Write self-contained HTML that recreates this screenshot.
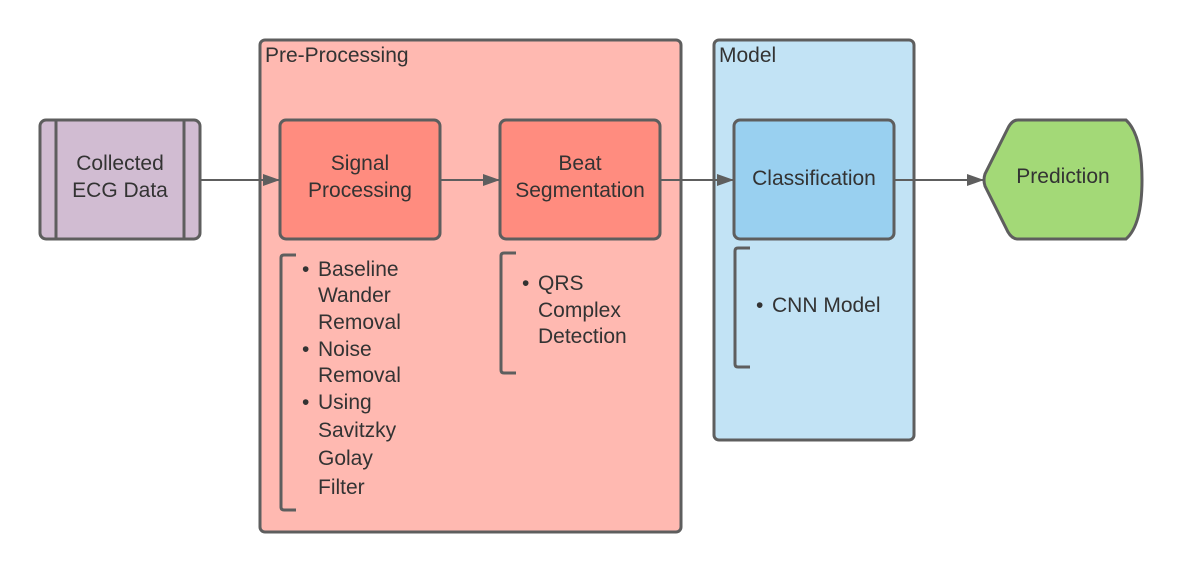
<!DOCTYPE html>
<html><head><meta charset="utf-8"><style>
html,body{margin:0;padding:0;background:#fff;}
svg{display:block;}
text{font-family:"Liberation Sans",Arial,sans-serif;fill:#333;}
</style></head><body>
<svg width="1183" height="573" viewBox="0 0 1183 573" xmlns="http://www.w3.org/2000/svg">
<defs><marker id="a" markerWidth="17" markerHeight="13" refX="16" refY="6.5" orient="auto" markerUnits="userSpaceOnUse"><path d="M0,0.5 L17,6.5 L0,12.5 z" fill="#5e5e5e" stroke="none"/></marker></defs>
<g stroke="#5e5e5e" stroke-width="3">
<rect x="260" y="40" width="421" height="492" rx="5" fill="#ffb9b1"/>
<rect x="714" y="40" width="200" height="400" rx="5" fill="#c2e3f5"/>
<rect x="40" y="120" width="160" height="119" rx="6" fill="#d1bcd2"/>
<line x1="56" y1="120" x2="56" y2="239"/><line x1="184" y1="120" x2="184" y2="239"/>
<rect x="280" y="120" width="160" height="119" rx="6" fill="#ff8c7f"/>
<rect x="500" y="120" width="160" height="119" rx="6" fill="#ff8c7f"/>
<rect x="734" y="120" width="160" height="119" rx="6" fill="#99d0f0"/>
<path d="M1018,120 L1126,120 Q1142,135 1142,180 Q1142,225 1126,239 L1018,239 Q1012,239 1008,232 L985,186 Q983,180 985,174 L1008,128 Q1012,120 1018,120 Z" fill="#a3d977"/>
<g fill="none">
<path d="M296,255 L284,255 Q281,255 281,258 L281,507 Q281,510 284,510 L296,510"/>
<path d="M516,253 L504,253 Q501,253 501,256 L501,370 Q501,373 504,373 L516,373"/>
<path d="M750,248 L738,248 Q735,248 735,251 L735,364 Q735,367 738,367 L750,367"/>
</g>
<g stroke-width="2">
<line x1="200" y1="180" x2="279" y2="180" marker-end="url(#a)"/>
<line x1="440" y1="180" x2="499" y2="180" marker-end="url(#a)"/>
<line x1="660" y1="180" x2="733" y2="180" marker-end="url(#a)"/>
<line x1="894" y1="180" x2="983" y2="180" marker-end="url(#a)"/>
</g>
</g>
<g font-size="21">
<text x="265" y="62">Pre-Processing</text>
<text x="719" y="62">Model</text>
<text x="120" y="170" text-anchor="middle">Collected</text>
<text x="120" y="197" text-anchor="middle">ECG Data</text>
<text x="360" y="170" text-anchor="middle">Signal</text>
<text x="360" y="197" text-anchor="middle">Processing</text>
<text x="580" y="170" text-anchor="middle">Beat</text>
<text x="580" y="197" text-anchor="middle">Segmentation</text>
<text x="814" y="185" text-anchor="middle">Classification</text>
<text x="1063" y="183" text-anchor="middle">Prediction</text>
<text x="302" y="276">•</text><text x="318" y="276">Baseline</text>
<text x="318" y="302">Wander</text>
<text x="318" y="329">Removal</text>
<text x="302" y="356">•</text><text x="318" y="356">Noise</text>
<text x="318" y="382">Removal</text>
<text x="302" y="409">•</text><text x="318" y="409">Using</text>
<text x="318" y="437">Savitzky</text>
<text x="318" y="465">Golay</text>
<text x="318" y="494">Filter</text>
<text x="522" y="290">•</text><text x="538" y="290">QRS</text>
<text x="538" y="317">Complex</text>
<text x="538" y="343">Detection</text>
<text x="756" y="312">•</text><text x="772" y="312">CNN Model</text>
</g>
</svg>
</body></html>
